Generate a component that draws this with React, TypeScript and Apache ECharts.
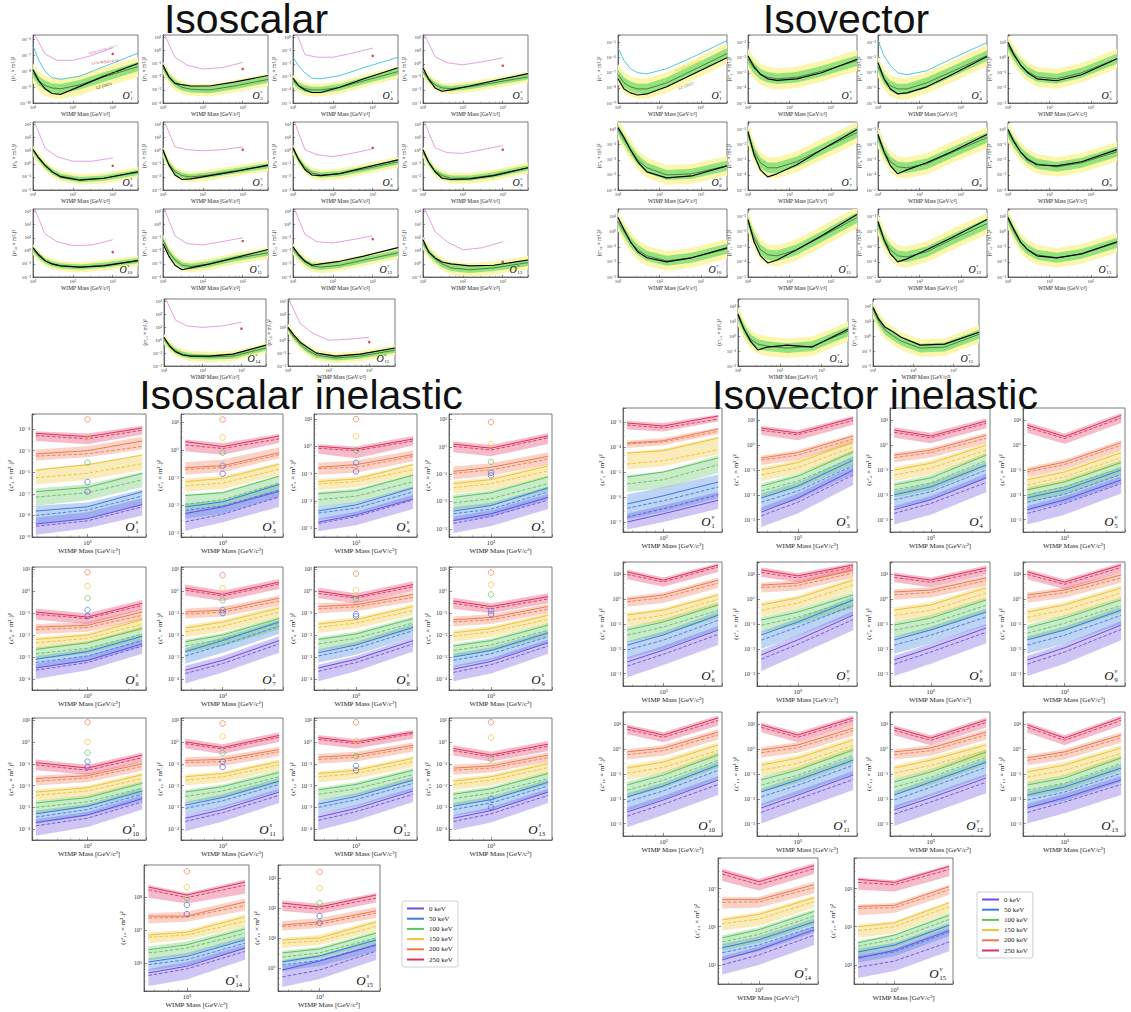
import React, { useEffect, useRef } from "react";
import * as echarts from "echarts";

const SERIF = "'Liberation Serif', 'DejaVu Serif', serif";
const SANS = "'Liberation Sans', 'DejaVu Sans', sans-serif";

// ---------- shared categories / x positions ----------
const OPS = ["1", "3", "4", "5", "6", "7", "8", "9", "10", "11", "12", "13", "14", "15"];
const EL_X = [10, 14, 20, 30, 50, 150, 600, 4300];
const EL_XR = [10, 4300];
const PINK_X = [10, 20, 40, 100, 300, 1000];
const DOT_X = 1000;
const IN_X = [400, 1000, 4000];
const IN_XR = [360, 4400];
// first column of the isoscalar inelastic block starts at a lower mass
const IN_X_WIDE = [270, 1000, 4000];
const IN_XR_WIDE = [245, 4400];
const ISI_WIDE_AT = [0, 4, 8];
const CIRC_X = 1000;
const KEV = ["0 keV", "50 keV", "100 keV", "150 keV", "200 keV", "250 keV"];
const KEV_LINE = ["#6a4fe0", "#3b7ddd", "#5cc35c", "#f0c232", "#f07851", "#e0315d"];

// ---------- Isoscalar elastic (log10 values) ----------
const ISO_RANGE = [[-10, -5.7], [-4, 1.2], [-5, 0.2], [-3, 2.2], [-2, 3.2], [-3, 2.2], [-3, 2.2], [-3, 2.2], [-2, 3.2], [-4, 1.2], [-4, 1.2], [-1, 4.2], [-2, 3.2], [-2, 3.2]];
const ISO_OBS = [
  [-7.9, -8.6, -9.1, -9.4, -9.45, -8.95, -8.3, -7.5],
  [-1.1, -2.0, -2.5, -2.6, -2.7, -2.7, -2.4, -1.9],
  [-3.1, -3.7, -4.0, -4.2, -4.2, -3.8, -3.15, -2.3],
  [-0.3, -1.2, -1.85, -2.1, -2.0, -1.7, -1.3, -0.75],
  [1.1, 0.45, -0.1, -0.6, -1.0, -1.25, -1.1, -0.6],
  [0.08, -1.08, -1.85, -2.2, -2.15, -1.9, -1.6, -1.1],
  [0.23, -0.7, -1.45, -1.85, -1.9, -1.75, -1.3, -0.7],
  [0.08, -0.9, -1.6, -2.1, -2.2, -2.15, -1.9, -1.3],
  [0.25, -0.3, -0.75, -1.0, -1.15, -1.25, -1.15, -0.75],
  [-1.45, -2.4, -3.1, -3.45, -3.3, -3.0, -2.55, -1.9],
  [-1.7, -2.3, -2.8, -3.1, -3.0, -2.8, -2.4, -1.75],
  [1.85, 0.9, 0.46, 0.15, 0.0, -0.15, -0.1, 0.3],
  [0.23, -0.45, -0.9, -1.15, -1.23, -1.23, -1.08, -0.38],
  [1.0, 0.4, -0.15, -0.55, -1.0, -1.23, -1.08, -0.6],
];
const ISO_MED = [
  [-8.1, -8.6, -8.9, -9.05, -9.1, -8.85, -8.35, -7.7],
  [-1.3, -2.0, -2.5, -2.8, -2.95, -3.0, -2.7, -2.2],
  [-3.3, -3.7, -3.9, -4.0, -4.0, -3.8, -3.3, -2.6],
  [-0.6, -1.2, -1.6, -1.85, -1.9, -1.75, -1.45, -1.0],
  [1.0, 0.4, -0.15, -0.6, -0.95, -1.2, -1.1, -0.65],
  [-0.1, -1.0, -1.6, -1.9, -2.0, -1.85, -1.55, -1.15],
  [0.1, -0.7, -1.3, -1.7, -1.85, -1.75, -1.4, -0.85],
  [-0.1, -0.9, -1.55, -1.9, -2.1, -2.1, -1.85, -1.3],
  [0.1, -0.4, -0.75, -1.0, -1.15, -1.25, -1.1, -0.75],
  [-1.15, -2.1, -2.7, -3.1, -3.2, -3.0, -2.6, -2.15],
  [-1.85, -2.4, -2.85, -3.15, -3.25, -3.1, -2.7, -2.15],
  [1.6, 0.9, 0.4, 0.0, -0.3, -0.45, -0.3, 0.1],
  [0.08, -0.45, -0.85, -1.08, -1.23, -1.3, -1.23, -0.6],
  [0.9, 0.23, -0.3, -0.77, -1.15, -1.38, -1.23, -0.77],
];
// band half-widths in decades: [1σ below, 1σ above, 2σ below, 2σ above]
const ISO_BAND = [[0.3, 0.3, 0.65, 0.6], [0.25, 0.25, 0.5, 0.45], [0.25, 0.25, 0.5, 0.45], [0.2, 0.2, 0.42, 0.4], [0.2, 0.2, 0.4, 0.4], [0.2, 0.2, 0.42, 0.4], [0.2, 0.2, 0.42, 0.4], [0.2, 0.2, 0.42, 0.4], [0.2, 0.2, 0.4, 0.38], [0.22, 0.22, 0.45, 0.42], [0.22, 0.22, 0.45, 0.42], [0.25, 0.25, 0.5, 0.5], [0.2, 0.2, 0.4, 0.4], [0.2, 0.2, 0.4, 0.4]];
const ISO_PINK = [
  [-5.5, -6.9, -7.3, -7.3, -7.0, -6.5],
  [1.5, -0.5, -1.1, -1.4, -1.3, -0.9],
  [1.0, -1.3, -1.5, -1.5, -1.2, -0.8],
  [2.5, 0.54, 0.08, -0.08, 0.15, 0.46],
  [3.5, 1.2, 0.55, 0.2, 0.2, 0.45],
  [2.5, 0.3, 0.08, 0.0, 0.08, 0.3],
  [2.5, 0.08, -0.3, -0.45, -0.2, 0.15],
  [2.5, 0.23, -0.15, -0.2, 0.08, 0.4],
  [3.5, 1.3, 0.7, 0.4, 0.45, 0.85],
  [1.5, -0.85, -1.45, -1.55, -1.3, -1.0],
  [1.5, -0.75, -1.3, -1.4, -1.15, -0.85],
  [4.5, 2.46, 1.7, 1.08, 1.23, 1.7],
  [3.5, 1.55, 1.1, 1.0, 1.1, 1.4],
  [3.3, 1.3, 0.55, 0.0, 0.08, 0.23],
];
const ISO_DOT = [-6.9, -1.4, -1.4, -0.15, -0.15, 0.08, 0.23, 0.08, -0.1, -1.25, -1.1, 0.15, 0.9, -0.15];
const ISO_CYAN_AT = [0, 2];
const ISO_CYAN = [
  [-6.4, -7.3, -8.0, -8.4, -8.5, -8.3, -7.7, -6.85],
  [-1.5, -2.2, -2.7, -3.1, -3.15, -2.9, -2.3, -1.5],
];

// ---------- Isovector elastic ----------
const IV_RANGE = [[-9, -4.5], [-5, -0.5], [-6, -1.5], [-3, 1.5], [-4, 0.5], [-5, -0.5], [-5, -0.5], [-4, 0.5], [-3, 1.5], [-5, -0.5], [-5, -0.5], [-3, 1.5], [-2, 2.5], [-2, 2.5]];
const IV_OBS = [
  [-7.4, -8.07, -8.33, -8.47, -8.4, -7.93, -7.13, -6.0],
  [-1.9, -2.6, -3.1, -3.4, -3.5, -3.4, -3.0, -2.1],
  [-3.33, -4.4, -5.07, -5.4, -5.33, -4.93, -4.13, -2.93],
  [1.0, 0.2, -0.47, -1.0, -1.4, -1.53, -1.13, -0.07],
  [0.13, -0.53, -1.33, -2.13, -2.8, -3.2, -3.07, -2.4],
  [-1.13, -2.67, -3.67, -4.13, -3.93, -3.33, -2.33, -1.0],
  [-1.33, -2.47, -3.4, -3.93, -3.67, -3.2, -2.47, -1.33],
  [0.0, -0.8, -1.47, -2.0, -2.33, -2.4, -2.13, -1.33],
  [0.93, 0.13, -0.67, -1.33, -1.73, -2.0, -1.73, -1.07],
  [-1.2, -2.67, -3.6, -4.07, -3.87, -3.2, -2.27, -0.87],
  [-1.33, -2.53, -3.47, -4.0, -3.8, -3.2, -2.4, -1.2],
  [0.93, 0.13, -0.67, -1.2, -1.6, -1.73, -1.47, -0.67],
  [1.47, 0.47, -0.33, -0.93, -0.73, -0.6, -0.73, 0.47],
  [1.93, 1.13, 0.6, 0.33, -0.07, -0.6, -0.53, 0.27],
];
const IV_MED = [
  [-7.13, -7.67, -7.93, -8.07, -8.07, -7.67, -6.87, -5.73],
  [-2.1, -2.7, -3.1, -3.3, -3.4, -3.3, -2.9, -2.2],
  [-3.6, -4.4, -4.87, -5.07, -5.07, -4.67, -3.93, -2.87],
  [0.8, 0.13, -0.47, -0.93, -1.27, -1.4, -1.0, -0.07],
  [0.0, -0.67, -1.33, -2.0, -2.53, -3.0, -2.93, -2.4],
  [-1.33, -2.47, -3.2, -3.53, -3.53, -3.13, -2.33, -1.2],
  [-1.53, -2.47, -3.13, -3.47, -3.53, -3.27, -2.53, -1.53],
  [-0.2, -0.87, -1.47, -1.93, -2.27, -2.47, -2.2, -1.47],
  [0.67, 0.0, -0.67, -1.2, -1.6, -1.93, -1.73, -1.13],
  [-1.33, -2.4, -3.2, -3.53, -3.6, -3.2, -2.33, -1.07],
  [-1.53, -2.53, -3.2, -3.6, -3.67, -3.33, -2.53, -1.47],
  [0.8, 0.0, -0.73, -1.2, -1.53, -1.73, -1.47, -0.73],
  [1.33, 0.47, -0.2, -0.53, -0.67, -0.8, -0.67, 0.33],
  [1.8, 1.0, 0.4, 0.07, -0.33, -0.8, -0.73, 0.13],
];
const IV_BAND = [[0.3, 0.35, 0.65, 0.7], [0.35, 0.35, 0.7, 0.7], [0.35, 0.35, 0.7, 0.7], [0.33, 0.33, 0.65, 0.65], [0.33, 0.33, 0.65, 0.65], [0.35, 0.35, 0.7, 0.7], [0.35, 0.35, 0.7, 0.7], [0.33, 0.33, 0.65, 0.65], [0.33, 0.33, 0.65, 0.65], [0.35, 0.35, 0.7, 0.7], [0.35, 0.35, 0.7, 0.7], [0.33, 0.33, 0.65, 0.65], [0.33, 0.33, 0.65, 0.65], [0.3, 0.3, 0.6, 0.6]];
const IV_CYAN_AT = [0, 2];
const IV_CYAN = [
  [-5.33, -6.2, -6.73, -7.0, -7.07, -6.73, -6.0, -4.87],
  [-1.87, -2.87, -3.53, -4.0, -4.13, -3.87, -3.07, -2.0],
];

// ---------- Inelastic: per panel, per energy (0..250 keV):
// [solid x3, dashed x3, band low x3, band high x3] as log10 values at the three masses
const ISI_RANGE = [[-9, -3.3], [-3.15, 1.3], [-3.33, 1.19], [-3.3, 1.2], [-4.5, 1.1], [-4.5, 1.1], [-4.5, 1.1], [-4.5, 1.1], [-4.5, 1.1], [-4.5, 1.1], [-4.5, 1.1], [-4.5, 1.1], [5.15, 8.97], [-0.77, 3.43]];
const ISI_LINES = [
  [[-8.4, -8.15, -7.5, -8.5, -8.25, -7.6, -8.9, -8.6, -8, -8.1, -7.85, -7.2], [-7.8, -7.6, -6.9, -8, -7.75, -7.1, -8.4, -8.15, -7.5, -7.55, -7.4, -6.8], [-6.9, -6.7, -6.05, -7.15, -6.95, -6.35, -7.55, -7.3, -6.7, -6.75, -6.55, -6], [-5.9, -5.65, -5.2, -6.25, -6.05, -5.6, -6.55, -6.35, -5.9, -5.85, -5.6, -5.2], [-5.15, -5, -4.55, -5.25, -5.15, -4.8, -5.45, -5.3, -4.95, -4.95, -4.8, -4.35], [-4.2, -4.35, -3.95, -4.3, -4.45, -4.05, -4.55, -4.7, -4.25, -4.1, -4.2, -3.85]],
  [[-2.3, -2.06, -1.5, -2.6, -2.33, -1.7, -2.92, -2.62, -2.06, -2.2, -2, -1.45], [-2.06, -1.88, -1.25, -2.18, -2.03, -1.45, -2.48, -2.3, -1.7, -1.94, -1.82, -1.2], [-1.65, -1.55, -0.95, -1.97, -1.8, -1.2, -2.18, -2, -1.5, -1.6, -1.5, -0.92], [-1.15, -1.03, -0.52, -1.3, -1.2, -0.7, -1.5, -1.42, -0.9, -1.02, -0.95, -0.45], [-0.64, -0.57, -0.1, -0.7, -0.64, -0.17, -0.9, -0.8, -0.3, -0.45, -0.35, 0.1], [0.3, 0.12, 0.5, 0.18, 0.05, 0.4, -0.05, -0.17, 0.25, 0.38, 0.25, 0.58]],
  [[-2.78, -2.52, -1.93, -2.83, -2.58, -1.97, -3.12, -2.9, -2.3, -2.65, -2.4, -1.78], [-2.37, -2.15, -1.53, -2.45, -2.27, -1.67, -2.7, -2.52, -1.9, -2.2, -2.05, -1.47], [-1.74, -1.63, -1.06, -1.96, -1.83, -1.3, -2.2, -2.08, -1.52, -1.67, -1.56, -1.02], [-1.29, -1.2, -0.67, -1.38, -1.29, -0.85, -1.6, -1.5, -1.05, -1.2, -1.12, -0.62], [-0.77, -0.67, -0.3, -0.82, -0.77, -0.37, -1.04, -0.97, -0.55, -0.6, -0.52, -0.15], [0, -0.1, 0.27, -0.07, -0.16, 0.2, -0.27, -0.44, 0.03, 0.08, 0, 0.38]],
  [[-2.7, -2.45, -1.85, -2.8, -2.55, -1.95, -3.15, -2.9, -2.28, -2.55, -2.32, -1.72], [-2.35, -2.15, -1.5, -2.45, -2.28, -1.65, -2.72, -2.55, -1.92, -2.2, -2.05, -1.45], [-1.85, -1.68, -1.1, -2.05, -1.9, -1.35, -2.3, -2.15, -1.6, -1.75, -1.6, -1.05], [-1.35, -1.2, -0.7, -1.5, -1.35, -0.88, -1.72, -1.58, -1.1, -1.25, -1.12, -0.62], [-0.9, -0.75, -0.35, -0.97, -0.85, -0.45, -1.2, -1.05, -0.65, -0.72, -0.6, -0.2], [0.1, -0.05, 0.4, 0.02, -0.12, 0.33, -0.2, -0.35, 0.1, 0.2, 0.07, 0.5]],
  [[-3.5, -3.15, -2.4, -3.6, -3.25, -2.5, -4, -3.6, -2.85, -3.3, -2.95, -2.2], [-3.1, -2.75, -2.05, -3.25, -2.95, -2.25, -3.5, -3.2, -2.5, -2.95, -2.65, -1.95], [-2.65, -2.35, -1.7, -2.85, -2.6, -1.95, -3.1, -2.85, -2.2, -2.55, -2.28, -1.6], [-2.2, -2, -1.3, -2.35, -2.15, -1.5, -2.6, -2.4, -1.75, -2.1, -1.9, -1.2], [-1.64, -1.55, -0.95, -1.75, -1.65, -1.1, -1.95, -1.85, -1.3, -1.5, -1.4, -0.8], [-0.95, -1.18, -0.55, -1.05, -1.25, -0.65, -1.3, -1.5, -0.85, -0.8, -1, -0.4]],
  [[-3.6, -3.15, -2.25, -3.75, -3.3, -2.4, -4.2, -3.7, -2.8, -3.4, -2.95, -2.05], [-2.75, -2.25, -1.4, -2.95, -2.45, -1.6, -3.3, -2.8, -1.95, -2.6, -2.1, -1.3], [-2.3, -2, -1.25, -2.5, -2.2, -1.45, -2.8, -2.5, -1.75, -2.2, -1.9, -1.15], [-1.68, -1.41, -0.77, -1.85, -1.6, -0.95, -2.1, -1.85, -1.2, -1.55, -1.3, -0.65], [-0.95, -0.86, -0.32, -1.05, -0.95, -0.45, -1.25, -1.15, -0.65, -0.8, -0.7, -0.2], [0.14, -0.14, 0.41, 0.05, -0.22, 0.33, -0.2, -0.45, 0.1, 0.3, 0.02, 0.55]],
  [[-3.5, -3.1, -2.25, -3.65, -3.25, -2.4, -4.1, -3.65, -2.75, -3.35, -2.95, -2.1], [-2.8, -2.45, -1.65, -2.95, -2.6, -1.8, -3.25, -2.9, -2.1, -2.65, -2.3, -1.5], [-2.2, -1.95, -1.25, -2.4, -2.15, -1.45, -2.7, -2.45, -1.75, -2.1, -1.85, -1.15], [-1.5, -1.3, -0.7, -1.65, -1.45, -0.88, -1.9, -1.7, -1.1, -1.38, -1.2, -0.6], [-0.7, -0.62, -0.15, -0.8, -0.72, -0.28, -1, -0.92, -0.48, -0.55, -0.48, -0.05], [0, -0.25, 0.3, -0.1, -0.32, 0.2, -0.32, -0.55, 0, 0.15, -0.1, 0.45]],
  [[-3.55, -3.2, -2.35, -3.7, -3.35, -2.5, -4.1, -3.75, -2.85, -3.4, -3.05, -2.2], [-3, -2.7, -1.9, -3.15, -2.85, -2.08, -3.45, -3.15, -2.35, -2.85, -2.55, -1.8], [-2.5, -2.25, -1.55, -2.7, -2.45, -1.78, -3, -2.75, -2.05, -2.4, -2.15, -1.45], [-1.9, -1.7, -1.1, -2.05, -1.85, -1.28, -2.3, -2.1, -1.5, -1.78, -1.6, -1], [-1.3, -1.2, -0.7, -1.4, -1.3, -0.82, -1.6, -1.5, -1, -1.15, -1.05, -0.58], [-0.45, -0.7, -0.25, -0.55, -0.8, -0.35, -0.8, -1, -0.55, -0.3, -0.55, -0.1]],
  [[-3.7, -3.35, -2.6, -3.85, -3.5, -2.75, -4.3, -3.9, -3.1, -3.55, -3.2, -2.45], [-3.3, -2.95, -2.25, -3.45, -3.1, -2.4, -3.75, -3.4, -2.7, -3.15, -2.85, -2.12], [-2.8, -2.55, -1.9, -3, -2.75, -2.12, -3.28, -3, -2.38, -2.7, -2.45, -1.8], [-2.3, -2.1, -1.5, -2.45, -2.25, -1.68, -2.7, -2.5, -1.9, -2.18, -2, -1.4], [-1.68, -1.55, -1, -1.8, -1.65, -1.12, -2, -1.85, -1.32, -1.55, -1.42, -0.88], [-0.95, -1.2, -0.6, -1.05, -1.3, -0.72, -1.3, -1.5, -0.92, -0.8, -1.05, -0.48]],
  [[-3.5, -3.1, -2.3, -3.65, -3.25, -2.45, -4.1, -3.65, -2.8, -3.35, -2.95, -2.15], [-2.9, -2.55, -1.8, -3.05, -2.7, -1.95, -3.35, -3, -2.25, -2.75, -2.4, -1.65], [-2.3, -2.05, -1.4, -2.5, -2.25, -1.6, -2.8, -2.55, -1.9, -2.2, -1.95, -1.3], [-1.6, -1.45, -0.9, -1.75, -1.6, -1.05, -2, -1.85, -1.3, -1.5, -1.35, -0.8], [-0.85, -0.8, -0.35, -0.95, -0.9, -0.45, -1.15, -1.1, -0.65, -0.7, -0.65, -0.22], [0, -0.25, 0.3, -0.08, -0.32, 0.22, -0.3, -0.55, 0, 0.15, -0.1, 0.45]],
  [[-3.45, -3.05, -2.25, -3.6, -3.2, -2.4, -4.05, -3.6, -2.75, -3.3, -2.9, -2.1], [-2.85, -2.5, -1.75, -3, -2.65, -1.9, -3.3, -2.95, -2.2, -2.7, -2.35, -1.6], [-2.2, -1.95, -1.3, -2.4, -2.15, -1.5, -2.7, -2.45, -1.8, -2.1, -1.85, -1.2], [-1.45, -1.3, -0.75, -1.6, -1.45, -0.9, -1.85, -1.7, -1.15, -1.35, -1.2, -0.65], [-0.7, -0.6, -0.15, -0.8, -0.7, -0.25, -1, -0.9, -0.45, -0.55, -0.45, -0.02], [0.2, 0, 0.45, 0.12, -0.08, 0.38, -0.1, -0.3, 0.15, 0.32, 0.12, 0.55]],
  [[-3.5, -3.15, -2.3, -3.65, -3.3, -2.45, -4.05, -3.7, -2.8, -3.35, -3, -2.15], [-2.95, -2.65, -1.85, -3.1, -2.8, -2.02, -3.4, -3.1, -2.3, -2.8, -2.5, -1.72], [-2.4, -2.15, -1.45, -2.6, -2.35, -1.68, -2.9, -2.65, -1.95, -2.3, -2.05, -1.35], [-1.8, -1.6, -1, -1.95, -1.75, -1.18, -2.2, -2, -1.4, -1.68, -1.5, -0.9], [-1.2, -1.1, -0.6, -1.3, -1.2, -0.72, -1.5, -1.4, -0.92, -1.05, -0.95, -0.48], [-0.3, -0.6, -0.1, -0.4, -0.68, -0.2, -0.62, -0.9, -0.42, -0.15, -0.45, 0.05]],
  [[5.7, 5.9, 6.45, 5.62, 5.82, 6.35, 5.3, 5.5, 6.1, 5.82, 6.03, 6.55], [6.03, 6.2, 6.7, 5.95, 6.1, 6.6, 5.77, 5.93, 6.42, 6.14, 6.3, 6.8], [6.4, 6.55, 7.03, 6.3, 6.45, 6.9, 6.08, 6.24, 6.7, 6.5, 6.65, 7.1], [6.85, 6.93, 7.4, 6.78, 6.85, 7.27, 6.6, 6.7, 7.1, 6.93, 7, 7.48], [7.42, 7.42, 7.85, 7.36, 7.39, 7.74, 7.2, 7.25, 7.58, 7.5, 7.55, 7.95], [8.3, 8.06, 8.45, 8.22, 7.98, 8.36, 7.98, 7.8, 8.1, 8.36, 8.12, 8.52]],
  [[-0.07, 0.23, 0.76, -0.3, -0.07, 0.56, -0.64, -0.37, 0.26, 0.06, 0.26, 0.83], [0.2, 0.4, 0.93, 0.1, 0.25, 0.77, -0.1, 0.06, 0.56, 0.26, 0.43, 1], [0.5, 0.63, 1.16, 0.36, 0.5, 1, 0.16, 0.33, 0.83, 0.56, 0.7, 1.23], [0.93, 1, 1.53, 0.83, 0.9, 1.38, 0.66, 0.76, 1.23, 1, 1.1, 1.6], [1.43, 1.53, 1.9, 1.38, 1.46, 1.83, 1.25, 1.33, 1.66, 1.56, 1.66, 2.03], [2.16, 2.03, 2.43, 2.06, 1.96, 2.33, 1.9, 1.8, 2.18, 2.25, 2.14, 2.5]],
];
// open circles at 10^3 GeV for 0..200 keV
const ISI_CIRC = [[-6.9, -6.45, -5.55, -4.4, -3.55], [-0.86, -0.57, -0.1, 0.45, 1.1], [-0.92, -0.6, -0.15, 0.37, 1.0], [-1.05, -0.95, -0.55, 0.1, 0.9], [-1.14, -0.86, -0.32, 0.23, 0.86], [-1.0, -0.86, -0.41, 0.14, 0.73], [-1.15, -1.05, -0.35, 0.05, 0.8], [-1.05, -0.9, -0.15, 0.3, 0.85], [-1.15, -0.9, -0.5, 0.0, 0.9], [-1.15, -0.9, -0.5, 0.25, 0.85], [-1.3, -1.1, -0.65, 0.05, 0.9], [-3.0, -2.6, -0.8, 0.2, 0.9], [7.48, 7.76, 7.97, 8.3, 8.78], [1.5, 1.73, 2.16, 2.66, 3.2]];

const IVI_RANGE = [[-7.4, -2.44], [-3.5, 1.5], [-3.5, 1.5], [-3.5, 1.5], [-3.5, 1.5], [-3.5, 1.5], [-3.5, 1.5], [-3.5, 1.5], [-3.5, 1.5], [-3.5, 1.5], [-3.5, 1.5], [-3.5, 1.5], [4.5, 7.8], [0.5, 3.8]];
const IVI_LINES = [
  [[-7, -6.67, -6.13, -6.8, -6.47, -5.91, -7.3, -7, -6.47, -6.67, -6.33, -5.8], [-6.28, -5.95, -5.4, -6.45, -6.15, -5.6, -6.9, -6.6, -6.05, -5.9, -5.6, -5.1], [-5.2, -5, -4.44, -5.48, -5.31, -4.71, -5.8, -5.64, -5.04, -5.13, -4.97, -4.33], [-4.24, -4.15, -3.64, -4.68, -4.55, -4.11, -4.9, -4.77, -4.3, -4.2, -4.07, -3.57], [-3.84, -3.75, -3.28, -3.88, -3.8, -3.37, -4.04, -3.93, -3.48, -3.75, -3.64, -3.22], [-3.04, -3.16, -2.76, -3.12, -3.24, -2.88, -3.3, -3.38, -2.98, -2.96, -3.04, -2.7]],
  [[-2.7, -2.13, -1, -2.85, -2.3, -1.2, -3.3, -2.75, -1.6, -2.5, -1.95, -0.85], [-2.13, -1.65, -0.6, -2.3, -1.85, -0.82, -2.65, -2.2, -1.15, -1.95, -1.5, -0.45], [-1.65, -1.25, -0.27, -1.85, -1.45, -0.5, -2.15, -1.75, -0.8, -1.55, -1.15, -0.18], [-1, -0.7, 0.13, -1.2, -0.9, -0.08, -1.45, -1.15, -0.35, -0.9, -0.6, 0.22], [-0.52, -0.3, 0.37, -0.6, -0.4, 0.25, -0.8, -0.6, 0.05, -0.42, -0.2, 0.45], [0.69, 0.49, 1.1, 0.6, 0.42, 1, 0.42, 0.2, 0.82, 0.78, 0.6, 1.18]],
  [[-2.6, -2.2, -1.32, -2.75, -2.35, -1.5, -3.2, -2.8, -1.9, -2.45, -2.05, -1.15], [-2, -1.68, -0.8, -2.2, -1.88, -1, -2.55, -2.22, -1.35, -1.85, -1.52, -0.68], [-1.6, -1.32, -0.4, -1.8, -1.52, -0.62, -2.1, -1.82, -0.9, -1.5, -1.2, -0.3], [-1, -0.73, 0, -1.2, -0.92, -0.2, -1.45, -1.18, -0.45, -0.88, -0.62, 0.1], [-0.4, -0.2, 0.4, -0.5, -0.3, 0.28, -0.7, -0.5, 0.08, -0.3, -0.1, 0.5], [0.61, 0.37, 0.97, 0.52, 0.3, 0.88, 0.3, 0.08, 0.68, 0.72, 0.5, 1.08]],
  [[-2.6, -2.2, -1.4, -2.75, -2.35, -1.55, -3.2, -2.8, -1.95, -2.45, -2.05, -1.25], [-2.12, -1.8, -1, -2.3, -1.98, -1.18, -2.65, -2.32, -1.52, -1.98, -1.65, -0.88], [-1.8, -1.48, -0.7, -2, -1.68, -0.92, -2.3, -1.98, -1.2, -1.7, -1.38, -0.6], [-1.4, -1.08, -0.3, -1.6, -1.28, -0.5, -1.85, -1.52, -0.75, -1.3, -0.98, -0.2], [-1, -0.68, 0.1, -1.08, -0.78, 0, -1.28, -0.98, -0.2, -0.9, -0.58, 0.2], [0.81, 0.35, 1.2, 0.72, 0.27, 1.1, 0.5, 0.05, 0.9, 0.92, 0.47, 1.3]],
  [[-2.53, -2.05, -1.24, -2.7, -2.22, -1.42, -3.15, -2.65, -1.85, -2.35, -1.88, -1.08], [-1.85, -1.44, -0.64, -2.05, -1.65, -0.85, -2.4, -2, -1.2, -1.7, -1.3, -0.5], [-1.24, -0.92, -0.23, -1.45, -1.12, -0.45, -1.75, -1.42, -0.75, -1.12, -0.8, -0.12], [-0.64, -0.44, 0.17, -0.85, -0.65, 0, -1.1, -0.9, -0.28, -0.55, -0.35, 0.27], [0, 0.17, 0.77, -0.1, 0.06, 0.65, -0.3, -0.15, 0.45, 0.1, 0.27, 0.87], [1.1, 0.77, 1.38, 1, 0.7, 1.3, 0.8, 0.5, 1.1, 1.2, 0.88, 1.45]],
  [[-2.25, -1.64, -0.64, -2.42, -1.82, -0.82, -2.9, -2.25, -1.25, -2.05, -1.45, -0.48], [-1.44, -0.92, -0.03, -1.65, -1.12, -0.25, -2, -1.48, -0.6, -1.3, -0.78, 0.1], [-0.84, -0.52, 0.17, -1.05, -0.72, -0.05, -1.35, -1.02, -0.35, -0.72, -0.4, 0.28], [-0.23, 0.05, 0.77, -0.45, -0.15, 0.57, -0.7, -0.4, 0.3, -0.12, 0.15, 0.88], [0.57, 0.65, 1.18, 0.47, 0.55, 1.06, 0.27, 0.35, 0.86, 0.67, 0.75, 1.28], [1.18, 0.94, 1.38, 1.08, 0.86, 1.3, 0.9, 0.68, 1.12, 1.28, 1.05, 1.46]],
  [[-2.45, -1.96, -1.16, -2.62, -2.13, -1.33, -3.1, -2.6, -1.78, -2.28, -1.8, -1], [-1.64, -1.24, -0.52, -1.85, -1.45, -0.72, -2.2, -1.8, -1.06, -1.5, -1.1, -0.38], [-1.04, -0.76, -0.03, -1.25, -0.97, -0.25, -1.55, -1.27, -0.55, -0.92, -0.64, 0.08], [-0.44, -0.23, 0.45, -0.65, -0.45, 0.25, -0.9, -0.7, 0, -0.33, -0.12, 0.56], [0.29, 0.37, 0.86, 0.18, 0.27, 0.75, -0.02, 0.07, 0.55, 0.4, 0.48, 0.96], [0.98, 0.77, 1.26, 0.88, 0.68, 1.16, 0.68, 0.48, 0.98, 1.08, 0.88, 1.36]],
  [[-2.45, -1.96, -1.04, -2.62, -2.13, -1.22, -3.1, -2.6, -1.66, -2.28, -1.8, -0.88], [-1.64, -1.24, -0.44, -1.85, -1.45, -0.65, -2.2, -1.8, -1, -1.5, -1.1, -0.3], [-1.16, -0.76, -0.03, -1.37, -0.97, -0.25, -1.67, -1.27, -0.55, -1.04, -0.64, 0.08], [-0.52, -0.23, 0.45, -0.73, -0.44, 0.25, -0.98, -0.7, 0, -0.4, -0.12, 0.56], [0.17, 0.37, 0.98, 0.06, 0.26, 0.86, -0.14, 0.06, 0.66, 0.27, 0.48, 1.08], [1.1, 0.69, 1.38, 1, 0.6, 1.28, 0.8, 0.4, 1.08, 1.2, 0.8, 1.46]],
  [[-2.53, -2.05, -1.24, -2.7, -2.22, -1.42, -3.15, -2.65, -1.85, -2.35, -1.88, -1.08], [-1.93, -1.48, -0.64, -2.12, -1.68, -0.85, -2.48, -2.02, -1.2, -1.78, -1.34, -0.5], [-1.44, -1.04, -0.23, -1.65, -1.25, -0.45, -1.95, -1.55, -0.75, -1.32, -0.92, -0.12], [-0.76, -0.52, 0.17, -0.97, -0.73, -0.05, -1.22, -0.98, -0.3, -0.65, -0.4, 0.28], [-0.11, 0.05, 0.69, -0.22, -0.06, 0.58, -0.42, -0.26, 0.38, 0, 0.16, 0.8], [0.9, 0.57, 1.26, 0.8, 0.48, 1.16, 0.6, 0.28, 0.96, 1, 0.68, 1.36]],
  [[-2.37, -1.85, -1.04, -2.55, -2.02, -1.22, -3, -2.45, -1.65, -2.2, -1.68, -0.88], [-1.72, -1.24, -0.44, -1.92, -1.45, -0.65, -2.28, -1.8, -1, -1.58, -1.1, -0.3], [-1.24, -0.84, -0.03, -1.45, -1.05, -0.25, -1.75, -1.35, -0.55, -1.12, -0.72, 0.08], [-0.64, -0.36, 0.37, -0.85, -0.57, 0.15, -1.1, -0.82, -0.1, -0.52, -0.24, 0.48], [-0.03, 0.17, 0.85, -0.14, 0.06, 0.74, -0.34, -0.14, 0.54, 0.08, 0.28, 0.96], [0.98, 0.57, 1.26, 0.88, 0.48, 1.16, 0.68, 0.28, 0.96, 1.08, 0.68, 1.36]],
  [[-2.45, -1.96, -1.16, -2.62, -2.13, -1.33, -3.1, -2.58, -1.78, -2.28, -1.8, -1], [-1.85, -1.32, -0.52, -2.05, -1.53, -0.73, -2.4, -1.88, -1.08, -1.7, -1.18, -0.38], [-1.32, -0.92, -0.11, -1.53, -1.13, -0.33, -1.83, -1.43, -0.63, -1.2, -0.8, 0], [-0.76, -0.44, 0.17, -0.97, -0.65, -0.05, -1.22, -0.9, -0.3, -0.65, -0.32, 0.28], [-0.11, 0.05, 0.69, -0.22, -0.06, 0.58, -0.42, -0.26, 0.38, 0, 0.16, 0.8], [0.86, 0.45, 1.18, 0.76, 0.36, 1.08, 0.56, 0.16, 0.88, 0.96, 0.56, 1.28]],
  [[-2.37, -1.96, -1.24, -2.55, -2.13, -1.42, -3, -2.58, -1.85, -2.2, -1.8, -1.08], [-1.85, -1.52, -0.76, -2.05, -1.73, -0.97, -2.4, -2.08, -1.32, -1.7, -1.38, -0.62], [-1.44, -1.16, -0.35, -1.65, -1.37, -0.57, -1.95, -1.67, -0.87, -1.32, -1.04, -0.24], [-0.92, -0.64, 0.05, -1.13, -0.85, -0.17, -1.38, -1.1, -0.42, -0.8, -0.52, 0.16], [-0.35, -0.11, 0.57, -0.45, -0.22, 0.46, -0.65, -0.42, 0.26, -0.24, 0, 0.68], [0.98, 0.45, 1.26, 0.88, 0.36, 1.16, 0.66, 0.16, 0.96, 1.08, 0.56, 1.36]],
  [[5.13, 5.4, 5.92, 5, 5.26, 5.78, 4.75, 5, 5.52, 5.22, 5.48, 6], [5.45, 5.66, 6.13, 5.32, 5.52, 6, 5.15, 5.35, 5.85, 5.55, 5.75, 6.22], [5.71, 5.92, 6.4, 5.6, 5.8, 6.28, 5.38, 5.58, 6.06, 5.78, 5.98, 6.46], [6.18, 6.32, 6.76, 6.08, 6.2, 6.66, 5.9, 6.02, 6.5, 6.24, 6.38, 6.82], [6.71, 6.71, 7.1, 6.64, 6.65, 7.02, 6.48, 6.5, 6.88, 6.78, 6.78, 7.18], [7.45, 7.18, 7.6, 7.38, 7.1, 7.52, 7.2, 6.95, 7.38, 7.52, 7.25, 7.66]],
  [[1.18, 1.38, 1.9, 0.94, 1.1, 1.6, 0.66, 0.84, 1.36, 1.27, 1.43, 1.97], [1.34, 1.52, 2.04, 1.2, 1.34, 1.86, 1.06, 1.23, 1.76, 1.43, 1.58, 2.1], [1.58, 1.78, 2.3, 1.49, 1.67, 2.19, 1.28, 1.45, 1.98, 1.63, 1.8, 2.36], [2, 2.1, 2.63, 1.9, 2, 2.53, 1.72, 1.82, 2.36, 2.06, 2.15, 2.67], [2.53, 2.56, 3.05, 2.48, 2.5, 2.97, 2.3, 2.36, 2.84, 2.58, 2.62, 3.1], [3.24, 3.16, 3.58, 3.16, 3.1, 3.5, 2.97, 2.92, 3.32, 3.28, 3.22, 3.62]],
];

// ---------- layout (pixel boxes of plot areas) ----------
const ISO_BOX = [[33, 35, 138, 103], [163, 35, 268, 103], [293, 35, 398, 103], [423, 35, 528, 103], [33, 122, 138, 190], [163, 122, 268, 190], [293, 122, 398, 190], [423, 122, 528, 190], [33, 209, 138, 277], [163, 209, 268, 277], [293, 209, 398, 277], [423, 209, 528, 277], [164, 299, 266, 366], [288, 299, 395, 366]];
const IV_BOX = [[618, 35, 727, 103], [748, 35, 857, 103], [878, 35, 987, 103], [1008, 35, 1117, 103], [618, 122, 727, 190], [748, 122, 857, 190], [878, 122, 987, 190], [1008, 122, 1117, 190], [618, 209, 727, 277], [748, 209, 857, 277], [878, 209, 987, 277], [1008, 209, 1117, 277], [738, 299, 848, 366], [873, 299, 979, 366]];
const ISI_BOX = [[32, 414, 146, 537], [181, 414, 283, 537], [314, 414, 417, 537], [449, 414, 552, 537], [32, 567, 146, 690], [181, 567, 283, 690], [314, 567, 417, 690], [449, 567, 552, 690], [32, 718, 146, 840], [181, 718, 283, 840], [314, 718, 417, 840], [449, 718, 552, 840], [144, 865, 249, 991], [278, 865, 380, 991]];
const IVI_BOX = [[623, 408, 722, 532], [757, 408, 857, 532], [890, 408, 990, 532], [1023, 408, 1125, 532], [623, 562, 722, 686], [757, 562, 857, 686], [890, 562, 990, 686], [1023, 562, 1125, 686], [623, 712, 722, 836], [757, 712, 857, 836], [890, 712, 990, 836], [1023, 712, 1125, 836], [718, 858, 818, 984], [854, 858, 953, 984]];

const SUPM: any = { "0": "⁰", "1": "¹", "2": "²", "3": "³", "4": "⁴", "5": "⁵", "6": "⁶", "7": "⁷", "8": "⁸", "9": "⁹", "-": "⁻" };
const SUBM: any = { "0": "₀", "1": "₁", "2": "₂", "3": "₃", "4": "₄", "5": "₅", "6": "₆", "7": "₇", "8": "₈", "9": "₉" };

function decade(v: number) {
  const e = Math.log10(v);
  const r = Math.round(e);
  if (Math.abs(e - r) > 0.02) return "";
  return "10" + String(r).split("").map((c) => SUPM[c]).join("");
}

function buildOption() {
  const grid: any[] = [];
  const xAxis: any[] = [];
  const yAxis: any[] = [];
  const series: any[] = [];
  const elements: any[] = [];
  let g = 0;

  const addPanel = (box: number[], xr: number[], yr: number[], el: boolean, op: string, letter: string) => {
    const [x0, y0, x1, y1] = box;
    grid.push({ left: x0, top: y0, width: x1 - x0, height: y1 - y0, show: true, borderColor: "#444", borderWidth: 0.7, backgroundColor: "transparent", containLabel: false, outerBoundsMode: "none" });
    const tick = { show: true, inside: true, length: el ? 2.2 : 3, lineStyle: { color: "#444", width: 0.6 } };
    const minor = { show: true, splitNumber: 5, length: el ? 1.2 : 1.6, lineStyle: { color: "#666", width: 0.5 } };
    const line = { show: true, lineStyle: { color: "#444", width: 0.7 } };
    xAxis.push({
      type: "log", logBase: 10, gridIndex: g, min: xr[0], max: xr[1],
      name: "WIMP Mass [GeV/c²]", nameLocation: "middle", nameGap: el ? 7 : 10,
      nameTextStyle: { fontFamily: SERIF, fontSize: el ? 5.5 : 7, color: "#222" },
      axisLine: line, axisTick: tick, minorTick: minor, splitLine: { show: false }, minorSplitLine: { show: false },
      axisLabel: { formatter: decade, fontFamily: SERIF, fontSize: el ? 5 : 6.5, color: "#333", margin: 2 },
    });
    const subs = op.split("").map((c) => SUBM[c]).join("");
    yAxis.push({
      type: "log", logBase: 10, gridIndex: g, min: Math.pow(10, yr[0]), max: Math.pow(10, yr[1]),
      name: `(c${letter === "s" ? "ˢ" : "ᵛ"}${subs} × m²ᵥ)²`, nameLocation: "middle", nameGap: el ? 16 : 18,
      nameTextStyle: { fontFamily: SERIF, fontSize: el ? 5.5 : 7, color: "#222" },
      axisLine: line, axisTick: tick, minorTick: minor, splitLine: { show: false }, minorSplitLine: { show: false },
      axisLabel: { formatter: decade, fontFamily: SERIF, fontSize: el ? 5 : 6, color: "#333", margin: 2 },
    });
    // operator label, bottom-right corner
    const fs = el ? 10 : 13;
    const ss = el ? 5 : 6.5;
    const ox = x1 - (el ? (op.length > 1 ? 15 : 12) : op.length > 1 ? 19 : 16);
    const oy = y1 - (el ? 8 : 11);
    elements.push(
      { type: "text", x: ox, y: oy, z: 100, silent: true, style: { text: "O", fontSize: fs, fontFamily: SERIF, fontStyle: "italic", fill: "#111", align: "center", verticalAlign: "middle" } },
      { type: "text", x: ox + fs * 0.42, y: oy - fs * 0.34, z: 100, silent: true, style: { text: letter, fontSize: ss, fontFamily: SERIF, fontStyle: "italic", fill: "#111", align: "left", verticalAlign: "middle" } },
      { type: "text", x: ox + fs * 0.42, y: oy + fs * 0.36, z: 100, silent: true, style: { text: op, fontSize: ss, fontFamily: SERIF, fill: "#111", align: "left", verticalAlign: "middle" } }
    );
    return g++;
  };

  const band = (gi: number, pts: number[][], color: string, opacity: number, z: number) => ({
    type: "custom", xAxisIndex: gi, yAxisIndex: gi, z, silent: true, clip: true, data: pts,
    encode: { x: 0, y: [1, 2] },
    renderItem: (params: any, api: any) => {
      if (params.dataIndex !== 0) return null;
      const up = pts.map((p) => api.coord([p[0], p[2]]));
      const lo = pts.map((p) => api.coord([p[0], p[1]])).reverse();
      return { type: "polygon", shape: { points: up.concat(lo) }, style: { fill: color, opacity, stroke: "none" } };
    },
  });
  const lineS = (gi: number, data: number[][], color: string, width: number, z: number, type = "solid", name?: string) => ({
    type: "line", xAxisIndex: gi, yAxisIndex: gi, data, name, symbol: "none", showSymbol: false, silent: true, z,
    lineStyle: { color, width, type }, itemStyle: { color },
  });

  const elastic = (boxes: number[][], range: number[][], obs: number[][], med: number[][], bw: number[][], pink: number[][] | null, dot: number[] | null, cyanAt: number[], cyan: number[][], letter: string) => {
    for (let i = 0; i < 14; i++) {
      const gi = addPanel(boxes[i], EL_XR, range[i], true, OPS[i], letter);
      const b = bw[i];
      series.push(band(gi, EL_X.map((x, k) => [x, Math.pow(10, med[i][k] - b[2]), Math.pow(10, med[i][k] + b[3])]), "#fbf6ab", 1, 1));
      series.push(band(gi, EL_X.map((x, k) => [x, Math.pow(10, med[i][k] - b[0]), Math.pow(10, med[i][k] + b[1])]), "#93e37c", 1, 2));
      if (pink) series.push(lineS(gi, PINK_X.map((x, k) => [x, Math.pow(10, pink[i][k])]), "#dc8ad4", 0.8, 3));
      const ci = cyanAt.indexOf(i);
      if (ci >= 0) series.push(lineS(gi, EL_X.map((x, k) => [x, Math.pow(10, cyan[ci][k])]), "#3ec0dc", 0.9, 3));
      series.push(lineS(gi, EL_X.map((x, k) => [x, Math.pow(10, med[i][k])]), "#222", 0.55, 4));
      series.push(lineS(gi, EL_X.map((x, k) => [x, Math.pow(10, obs[i][k])]), "#000", 1.15, 5));
      if (dot) series.push({ type: "scatter", xAxisIndex: gi, yAxisIndex: gi, silent: true, z: 6, symbol: "circle", symbolSize: 2.6, itemStyle: { color: "#c0262d" }, data: [[DOT_X, Math.pow(10, dot[i])]] });
    }
  };

  const inelastic = (boxes: number[][], range: number[][], lines: number[][][], circ: number[][] | null, letter: string, wideAt: number[]) => {
    for (let i = 0; i < 14; i++) {
      const wide = wideAt.indexOf(i) >= 0;
      const xs = wide ? IN_X_WIDE : IN_X;
      const gi = addPanel(boxes[i], wide ? IN_XR_WIDE : IN_XR, range[i], false, OPS[i], letter);
      for (let c = 0; c < 6; c++) {
        const r = lines[i][c];
        series.push(band(gi, xs.map((x, k) => [x, Math.pow(10, r[6 + k]), Math.pow(10, r[9 + k])]), KEV_LINE[c], 0.33, 1));
      }
      for (let c = 0; c < 6; c++) {
        const r = lines[i][c];
        series.push(lineS(gi, xs.map((x, k) => [x, Math.pow(10, r[3 + k])]), KEV_LINE[c], 0.9, 3, "dashed"));
        series.push(lineS(gi, xs.map((x, k) => [x, Math.pow(10, r[k])]), KEV_LINE[c], 1.0, 4, "solid", KEV[c]));
      }
      if (circ) {
        series.push({
          type: "scatter", xAxisIndex: gi, yAxisIndex: gi, silent: true, z: 6, symbol: "circle", symbolSize: 5.5,
          data: circ[i].map((v, k) => ({ value: [CIRC_X, Math.pow(10, v)], itemStyle: { color: "rgba(255,255,255,0)", borderColor: KEV_LINE[k], borderWidth: 0.9 } })),
        });
      }
    }
  };

  elastic(ISO_BOX, ISO_RANGE, ISO_OBS, ISO_MED, ISO_BAND, ISO_PINK, ISO_DOT, ISO_CYAN_AT, ISO_CYAN, "s");
  elastic(IV_BOX, IV_RANGE, IV_OBS, IV_MED, IV_BAND, null, null, IV_CYAN_AT, IV_CYAN, "v");
  inelastic(ISI_BOX, ISI_RANGE, ISI_LINES, ISI_CIRC, "s", ISI_WIDE_AT);
  inelastic(IVI_BOX, IVI_RANGE, IVI_LINES, null, "v", []);

  const title = (text: string, x: number, y: number, size: number) => ({
    type: "text", x, y, z: 200, silent: true,
    style: { text, fontSize: size, fontFamily: SANS, fill: "#111", align: "center", verticalAlign: "middle" },
  });
  elements.push(title("Isoscalar", 246, 19, 41), title("Isovector", 846, 19, 41), title("Isoscalar inelastic", 301, 395, 41), title("Isovector inelastic", 875, 395, 41));

  const note = (text: string, x: number, y: number, rot: number, color: string) => ({
    type: "text", x, y, rotation: rot, z: 90, silent: true,
    style: { text, fontSize: 3.8, fontFamily: SERIF, fill: color, align: "center", verticalAlign: "middle" },
  });
  elements.push(
    note("XENON100 (2017)", 103, 50, 0.28, "#cf6fc6"),
    note("LUX WS2014-16", 105, 62, 0.12, "#c0303a"),
    note("PandaX-4T (2023)", 102, 75, 0.25, "#a9dc6a"),
    note("LZ (2023)", 104, 86, 0.3, "#222"),
    note("PandaX-4T (2023)", 688, 66, 0.38, "#c8cf3c"),
    note("LZ (2023)", 686, 86, 0.38, "#6b5420")
  );

  const legendBase = {
    orient: "vertical", data: KEV, icon: "rect", itemWidth: 17, itemHeight: 2, itemGap: 3.2, padding: [4, 5, 4, 5],
    borderColor: "#bbb", borderWidth: 0.7, borderRadius: 2, backgroundColor: "#fff",
    textStyle: { fontFamily: SERIF, fontSize: 7, color: "#222", lineHeight: 7 }, selectedMode: false,
  };

  return {
    animation: false,
    backgroundColor: "#fff",
    grid, xAxis, yAxis, series,
    legend: [{ ...legendBase, left: 402, top: 901 }, { ...legendBase, left: 977, top: 892 }],
    graphic: { elements },
  };
}

export default function App() {
  const ref = useRef<HTMLDivElement>(null);
  useEffect(() => {
    if (!ref.current) return;
    const chart = echarts.init(ref.current, null, { renderer: "svg" });
    chart.setOption(buildOption() as any);
    return () => chart.dispose();
  }, []);
  return <div ref={ref} style={{ position: "absolute", left: 0, top: 0, width: 1131, height: 1012, background: "#fff" }} />;
}
